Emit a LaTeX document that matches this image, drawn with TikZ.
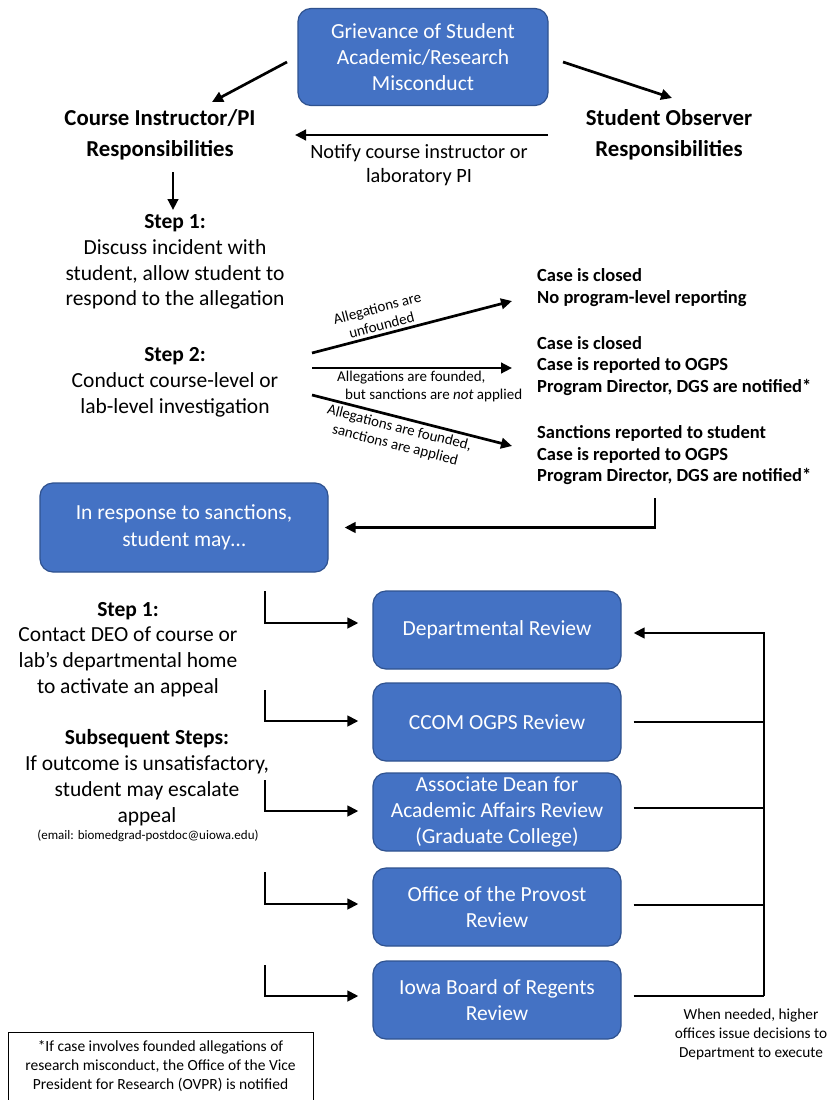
\documentclass[tikz,border=0pt]{standalone}
\usepackage{fontspec}
\setmainfont{Carlito}
\usetikzlibrary{arrows.meta}
\definecolor{boxblue}{HTML}{4472C4}
\definecolor{boxedge}{HTML}{2F528F}
\newcommand\myfs[2]{\fontsize{#1}{#2}\selectfont}
\begin{document}
\begin{tikzpicture}[x=1pt,y=-1pt,
 bluebox/.style={draw=boxedge, line width=1.2pt, fill=boxblue, rounded corners=13pt, text=white, align=center, font=\myfs{21.5}{26}, minimum width=248pt, minimum height=78pt, inner sep=0pt},
 arr/.style={line width=2.7pt, -{Triangle[length=11pt,width=10.5pt]}},
 ln/.style={line width=2.7pt},
 txt/.style={align=center, inner sep=0pt},
 head/.style={txt, font=\bfseries\myfs{22.8}{31}},
 body/.style={txt, font=\myfs{21.5}{25.8}},
 outc/.style={align=left, inner sep=0pt, anchor=west, font=\bfseries\myfs{18.5}{21.5}},
 small/.style={inner sep=0pt, font=\myfs{15}{17.5}},
]
\useasboundingbox[fill=white] (0,0) rectangle (829,1100);

% top
\node[bluebox, minimum width=250pt, minimum height=97pt] (top) at (423,57) {Grievance of Student\\Academic/Research\\Misconduct};
\node[head] (ci) at (160,134.5) {Course Instructor/PI\\Responsibilities};
\node[head] (so) at (669,134.5) {Student Observer\\Responsibilities};
\coordinate (t1s) at (287,62); \coordinate (t1e) at (212,102);
\coordinate (t2s) at (563,62); \coordinate (t2e) at (672,98);
\draw[arr] (t1s) -- (t1e);
\draw[arr] (t2s) -- (t2e);
\coordinate (ns) at (548,135); \coordinate (ne) at (295,135);
\draw[arr] (ns) -- (ne);
\node[txt, font=\myfs{20.3}{24.5}] (notify) at (419,165) {Notify course instructor or\\laboratory PI};
\coordinate (ds) at (173,172); \coordinate (de) at (173,210);
\draw[arr] (ds) -- (de);

% steps
\node[body] (s1) at (175,262) {\textbf{Step 1:}\\Discuss incident with\\student, allow student to\\respond to the allegation};
\node[body] (s2) at (175,382.5) {\textbf{Step 2:}\\Conduct course-level or\\lab-level investigation};

% outcomes
\node[outc] (o1) at (537,287.5) {Case is closed\\No program-level reporting};
\node[outc] (o2) at (537,366) {Case is closed\\Case is reported to OGPS\\Program Director, DGS are notified*};
\node[outc] (o3) at (537,455.5) {Sanctions reported to student\\Case is reported to OGPS\\Program Director, DGS are notified*};

\coordinate (f1s) at (312,353); \coordinate (f1e) at (512,301);
\coordinate (f2s) at (312,368); \coordinate (f2e) at (512,368);
\coordinate (f3s) at (312,395); \coordinate (f3e) at (512,446);
\draw[arr] (f1s) -- node[pos=0.36, above=3pt, sloped, small, align=center] {Allegations are\\unfounded} (f1e);
\draw[arr] (f2s) -- (f2e);
\draw[arr] (f3s) -- node[pos=0.45, below=3pt, sloped, small, align=center] {Allegations are founded,\\sanctions are applied} (f3e);
\node[small, align=left, anchor=north west] (f2l) at (337,371) {Allegations are founded,\\\hspace*{8pt}but sanctions are \textit{not} applied};

% sanctions box
\node[bluebox, minimum width=288pt, minimum height=89pt, font=\myfs{21.5}{27}] (sanc) at (184,527.5) {In response to sanctions,\\student may\ldots};
\coordinate (bt) at (655,498);
\coordinate (bk) at (655,527.5);
\draw[arr] (bt) -- (bk) -- ([xshift=16pt]sanc.east);

% reviews
\node[bluebox] (r1) at (497,630) {Departmental Review};
\node[bluebox] (r2) at (497,722) {CCOM OGPS Review};
\node[bluebox] (r3) at (497,812) {Associate Dean for\\Academic Affairs Review\\(Graduate College)};
\node[bluebox] (r4) at (497,907) {Office of the Provost\\Review};
\node[bluebox] (r5) at (497,1000) {Iowa Board of Regents\\Review};

% left texts
\node[body] (ls1) at (128,649.5) {\textbf{Step 1:}\\Contact DEO of course or\\lab's departmental home\\to activate an appeal};
\node[body] (ls2) at (147,777.5) {\textbf{Subsequent Steps:}\\If outcome is unsatisfactory,\\student may escalate\\appeal};
\node[inner sep=0pt, font=\myfs{13}{15}] (email) at (148,836) {(email: biomedgrad-postdoc@uiowa.edu)};

% left elbows
\foreach \n/\ya/\yb in {r1/591/623, r2/690/721, r3/780/811, r4/872/904, r5/965/996}{
  \draw[arr] (265,\ya) -- (265,\yb) -- ([xshift=-14pt]\n.west |- 0,\yb);
}

% right return
\coordinate (rv) at (764,633);
\draw[arr] (764,996) -- (rv) -- ([xshift=12pt]r1.east |- rv);
\draw[ln] ([xshift=12pt]r2.east) -- (764,722);
\draw[ln] ([xshift=12pt]r3.east |- 0,808) -- (764,808);
\draw[ln] ([xshift=12pt]r4.east |- 0,905) -- (764,905);
\draw[ln] ([xshift=12pt]r5.east |- 0,996) -- (764,996);
\node[txt, font=\myfs{15.3}{19}] (note) at (751,1034) {When needed, higher\\offices issue decisions to\\Department to execute};

% footnote
\node[draw, line width=1pt, minimum width=305pt, minimum height=68pt, align=center, inner sep=0pt, font=\myfs{15.5}{19}] (fn) at (160.5,1066) {*If case involves founded allegations of\\research misconduct, the Office of the Vice\\President for Research (OVPR) is notified};
\end{tikzpicture}
\end{document}
